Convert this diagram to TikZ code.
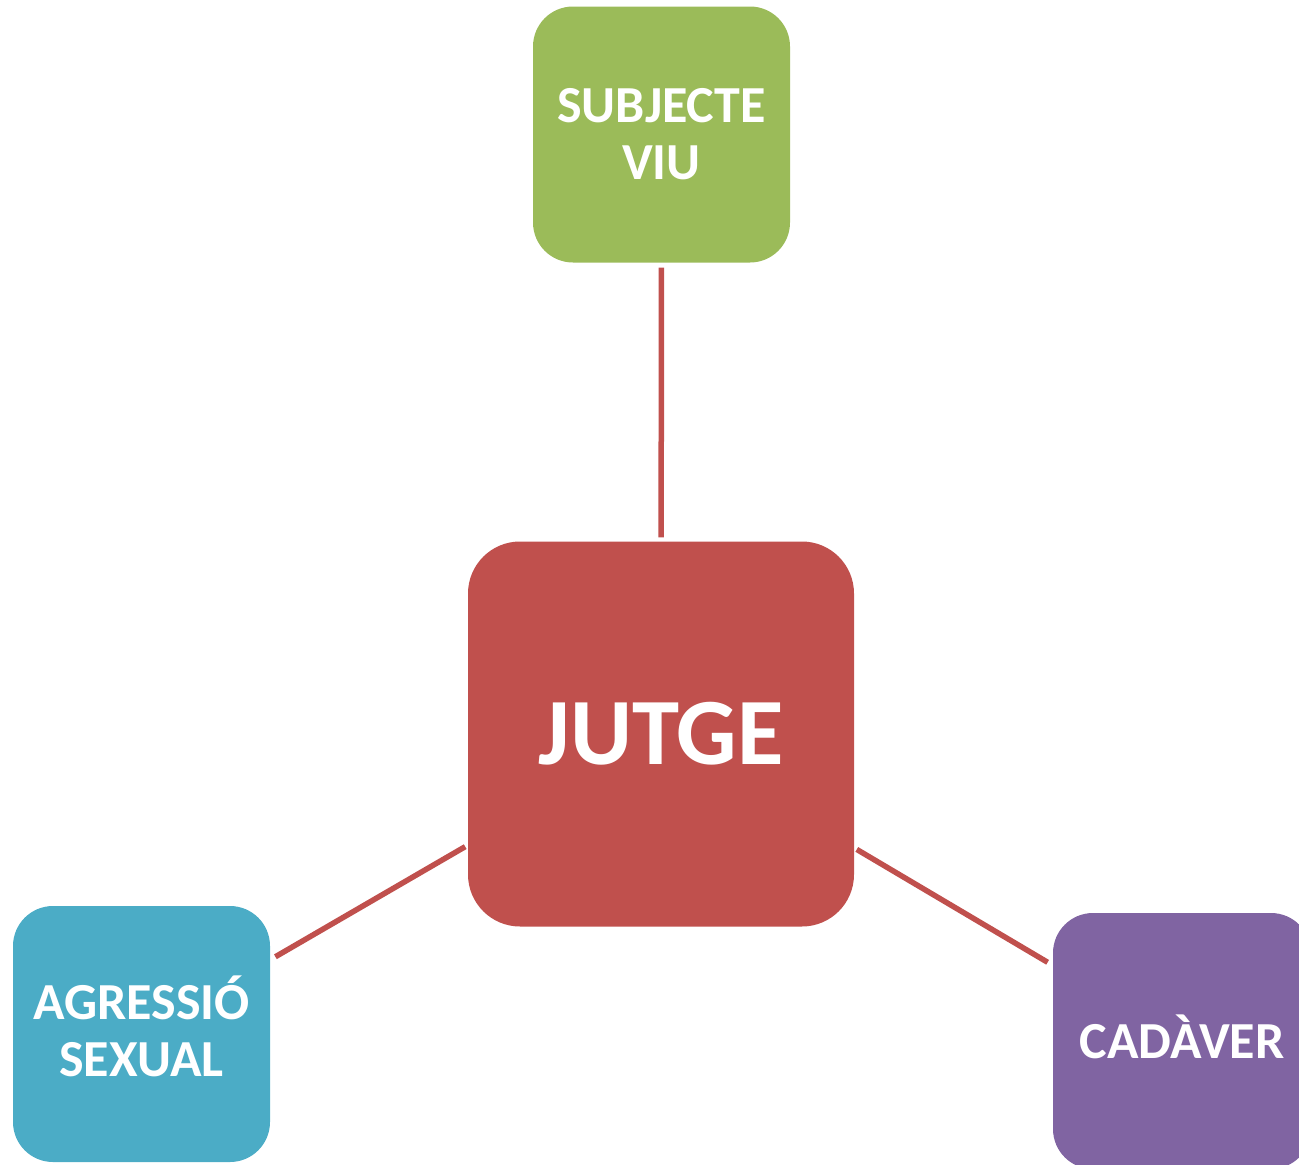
\documentclass[tikz,border=0pt]{standalone}
\usepackage{fontspec}
\setmainfont{Carlito}
\definecolor{cgreen}{HTML}{9BBB59}
\definecolor{cred}{HTML}{C0504D}
\definecolor{cblue}{HTML}{4BACC6}
\definecolor{cpurple}{HTML}{8064A2}
\begin{document}
\begin{tikzpicture}[x=1pt,y=-1pt,
  box/.style={rectangle, rounded corners=40pt, inner sep=0pt, text=white,
    font=\bfseries\fontsize{52}{57}\selectfont, align=center,
    minimum width=257pt, minimum height=256pt},
  link/.style={draw=cred, line width=5.5pt}]
\useasboundingbox (0,0) rectangle (1299,1165);
\node[box, fill=cgreen] (viu) at (661.5,134.5) {SUBJECTE\\VIU};
\node[box, fill=cred, minimum width=386pt, minimum height=385pt, rounded corners=52pt,
  font=\bfseries\fontsize{95}{100}\selectfont] (jutge) at (661,734) {JUTGE};
\node[box, fill=cblue] (agr) at (141.5,1034) {};
\node[text=white, font=\bfseries\fontsize{52}{57}\selectfont, align=center] (agrt) at (141.5,1026) {AGRESSIÓ\\SEXUAL};
\node[box, fill=cpurple, minimum width=258pt, minimum height=256pt] (cad) at (1182,1041) {};
\node[text=white, font=\bfseries\fontsize{52}{57}\selectfont] (cadt) at (1182,1037) {CADÀVER};
\draw[link, shorten <=5pt, shorten >=4pt] (viu) -- (jutge);
\draw[link, shorten <=3pt, shorten >=6pt] (jutge) -- (agr);
\draw[link, shorten <=3pt, shorten >=6pt] (jutge) -- (cad);
\end{tikzpicture}
\end{document}
